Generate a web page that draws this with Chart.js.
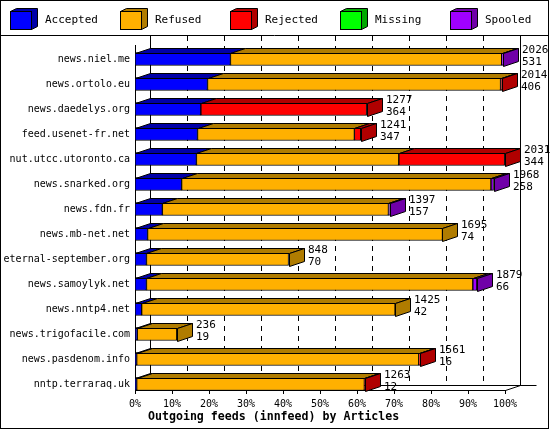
<!DOCTYPE html>
<html>
<head>
<meta charset="utf-8">
<script src="https://cdn.jsdelivr.net/npm/chart.js@4"></script>
<style>
  body { margin: 0; background: #fff; }
  #wrap { width: 550px; height: 430px; }
</style>
</head>
<body>
<div id="wrap"><canvas id="chart" width="550" height="430"></canvas></div>
<script>
// feeds, top to bottom
const feeds = ["news.niel.me", "news.ortolo.eu", "news.daedelys.org", "feed.usenet-fr.net",
  "nut.utcc.utoronto.ca", "news.snarked.org", "news.fdn.fr", "news.mb-net.net",
  "eternal-september.org", "news.samoylyk.net", "news.nntp4.net", "news.trigofacile.com",
  "news.pasdenom.info", "nntp.terraraq.uk"];

// article counts written next to the bars
const offered = [2026, 2014, 1277, 1241, 2031, 1968, 1397, 1695, 848, 1879, 1425, 236, 1561, 1263];
const acceptedCount = [531, 406, 364, 347, 344, 258, 157, 74, 70, 66, 42, 19, 16, 12];

// segment widths in % of the busiest feed
const accepted = [25.8, 19.6, 17.8, 16.9, 16.6, 12.6, 7.4, 3.4, 3.1, 3.1, 1.8, 0.6, 0.45, 0.45];
const refused  = [73.3, 79.2, 0, 42.4, 54.7, 83.6, 61.1, 79.7, 38.4, 88.2, 68.5, 10.7, 76.25, 61.55];
const rejected = [0, 0.3, 44.8, 1.7, 28.6, 0, 0, 0, 0, 0, 0, 0, 0.3, 0.2];
const missing  = [0, 0, 0, 0, 0, 0, 0, 0, 0, 0, 0, 0, 0, 0];
const spooled  = [0.4, 0, 0, 0, 0, 0.7, 0.3, 0, 0, 1.1, 0, 0, 0, 0];

const xTicks = [0, 10, 20, 30, 40, 50, 60, 70, 80, 90, 100];

const seriesNames = ["Accepted", "Refused", "Rejected", "Missing", "Spooled"];
const front = ["#0000ff", "#ffb000", "#ff0000", "#00ff00", "#a000ff"];
const dark  = ["#0000a8", "#b07c00", "#b00000", "#00a800", "#7000a8"];

const DX = 15, DY = 5;
const MONO = "'DejaVu Sans Mono', monospace";

const series = [accepted, refused, rejected, missing, spooled];

const look3d = {
  id: "look3d",
  beforeDatasetsDraw(chart) {
    const c = chart.ctx, xs = chart.scales.x;
    c.save();
    c.strokeStyle = "#000";
    c.lineWidth = 1;
    // back wall grid
    c.setLineDash([5, 5]);
    for (let t = 10; t < 100; t += 10) {
      const x = Math.round(xs.getPixelForValue(t)) + DX + 0.5;
      c.beginPath(); c.moveTo(x, 36); c.lineTo(x, 385); c.stroke();
    }
    c.setLineDash([]);
    const l = Math.round(xs.getPixelForValue(0)) + 0.5;
    const r = Math.round(xs.getPixelForValue(100)) + 0.5;
    c.beginPath();
    c.moveTo(l + DX, 35); c.lineTo(l + DX, 385.5); c.lineTo(r + DX + 16, 385.5);
    c.moveTo(r + DX, 35); c.lineTo(r + DX, 385.5);
    c.moveTo(l, 45); c.lineTo(l, 390.5); c.lineTo(r, 390.5); c.lineTo(r + DX, 385.5);
    c.stroke();
    xTicks.forEach(t => {
      const x = Math.round(xs.getPixelForValue(t)) + 0.5;
      c.beginPath(); c.moveTo(x, 390); c.lineTo(x, 394); c.stroke();
    });
    c.restore();
  },
  afterDatasetsDraw(chart) {
    const c = chart.ctx;
    c.save();
    c.lineWidth = 1;
    c.strokeStyle = "#000";
    feeds.forEach((f, i) => {
      let last = null;
      chart.data.datasets.forEach((ds, d) => {
        const el = chart.getDatasetMeta(d).data[i];
        if (!ds.data[i]) return;
        const left = Math.round(el.base), right = Math.round(el.x);
        const top = Math.round(el.y - el.height / 2);
        c.fillStyle = dark[d];
        c.beginPath();
        c.moveTo(left + 0.5, top + 0.5); c.lineTo(left + DX + 0.5, top - DY + 0.5);
        c.lineTo(right + DX + 0.5, top - DY + 0.5); c.lineTo(right + 0.5, top + 0.5);
        c.closePath(); c.fill(); c.stroke();
        last = { d, right, top, bottom: Math.round(el.y + el.height / 2) };
      });
      if (!last) return;
      c.fillStyle = dark[last.d];
      c.beginPath();
      c.moveTo(last.right + 0.5, last.top + 0.5); c.lineTo(last.right + DX + 0.5, last.top - DY + 0.5);
      c.lineTo(last.right + DX + 0.5, last.bottom - DY + 0.5); c.lineTo(last.right + 0.5, last.bottom + 0.5);
      c.closePath(); c.fill(); c.stroke();
      c.fillStyle = "#000";
      c.font = "11px " + MONO;
      c.textBaseline = "middle";
      c.fillText(String(offered[i]), last.right + DX + 4, last.top - 3);
      c.fillText(String(acceptedCount[i]), last.right + DX + 4, last.top + 9);
    });
    c.restore();
  },
  afterDraw(chart) {
    const c = chart.ctx;
    c.save();
    c.strokeStyle = "#000";
    c.lineWidth = 1;
    c.strokeRect(0.5, 0.5, 548, 428);
    c.beginPath(); c.moveTo(0, 35.5); c.lineTo(549, 35.5); c.stroke();
    // legend with little cubes
    seriesNames.forEach((name, k) => {
      const x = 10 + k * 110;
      c.fillStyle = dark[k];
      c.beginPath();
      c.moveTo(x + 0.5, 11.5); c.lineTo(x + 6.5, 8.5); c.lineTo(x + 27.5, 8.5);
      c.lineTo(x + 27.5, 26.5); c.lineTo(x + 21.5, 29.5); c.lineTo(x + 21.5, 11.5); c.closePath();
      c.fill(); c.stroke();
      c.fillStyle = front[k];
      c.fillRect(x + 0.5, 11.5, 21, 18);
      c.strokeRect(x + 0.5, 11.5, 21, 18);
      c.fillStyle = "#000";
      c.font = "11px " + MONO;
      c.textBaseline = "middle";
      c.fillText(name, x + 35, 20);
    });
    c.font = "bold 11.6px " + MONO;
    c.textAlign = "left";
    c.fillText("Outgoing feeds (innfeed) by Articles", 148, 417);
    c.restore();
  }
};

new Chart(document.getElementById("chart"), {
  type: "bar",
  data: {
    labels: feeds,
    datasets: series.map((vals, k) => ({
      label: seriesNames[k],
      data: vals.map(v => v || null),
      backgroundColor: front[k],
      borderColor: "#000",
      borderWidth: 1,
      borderSkipped: false,
      barThickness: 13
    }))
  },
  plugins: [look3d],
  options: {
    indexAxis: "y",
    responsive: false,
    animation: false,
    layout: { padding: { top: 46.5, right: 45, left: 0, bottom: 0 } },
    plugins: { legend: { display: false }, tooltip: { enabled: false } },
    scales: {
      x: {
        stacked: true, min: 0, max: 100,
        afterBuildTicks: s => { s.ticks = xTicks.map(v => ({ value: v })); },
        afterFit: s => { s.height = 33.5; },
        grid: { display: false, drawTicks: false }, border: { display: false },
        ticks: { color: "#000", padding: 2, font: { family: MONO, size: 10 }, callback: v => v + "%", maxRotation: 0 }
      },
      y: {
        stacked: true,
        afterFit: s => { s.width = 135; },
        grid: { display: false, drawTicks: false }, border: { display: false },
        ticks: { color: "#000", padding: 5, font: { family: MONO, size: 10 } }
      }
    }
  }
});
</script>
</body>
</html>
